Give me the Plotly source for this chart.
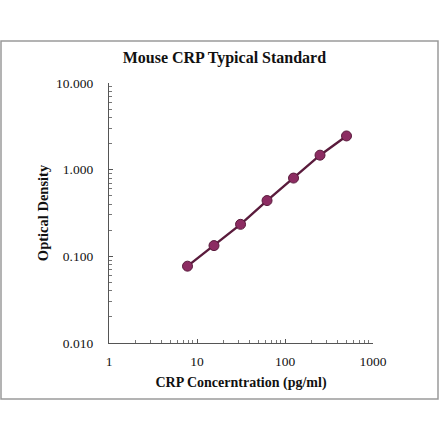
import plotly.graph_objects as go

concentration = [7.8, 15.6, 31.25, 62.5, 125, 250, 500]
optical_density = [0.077, 0.133, 0.234, 0.44, 0.80, 1.47, 2.45]

x_tick_vals = [1, 10, 100, 1000]
x_tick_text = ["1", "10", "100", "1000"]
y_tick_vals = [0.01, 0.1, 1, 10]
y_tick_text = ["0.010", "0.100", "1.000", "10.000"]

title_text = "Mouse CRP Typical Standard"
x_title = "CRP Concerntration (pg/ml)"
y_title = "Optical Density"

serif = "Liberation Serif, Times New Roman, serif"

fig = go.Figure()
fig.add_trace(go.Scatter(
    x=concentration, y=optical_density, mode="lines+markers",
    line=dict(color="#5a1b3c", width=2.4),
    marker=dict(size=10, color="#8c2c62", line=dict(color="#5a1b3c", width=1)),
    showlegend=False,
))

axis_common = dict(
    type="log", showgrid=False, zeroline=False, showline=True,
    linecolor="#555555", linewidth=1.2, ticks="inside", ticklen=4,
    tickcolor="#555555", tickwidth=1,
    minor=dict(ticks="inside", ticklen=3, tickcolor="#777777", dtick="D1"),
)

fig.update_layout(
    width=440, height=441,
    margin=dict(l=109, r=67, t=83, b=98),
    paper_bgcolor="white", plot_bgcolor="white",
    title=dict(text="<b>" + title_text + "</b>", x=0.51, xanchor="center",
               y=1 - 57 / 441, yanchor="middle",
               font=dict(family=serif, size=16, color="#111111")),
    xaxis=dict(axis_common, range=[0, 3], tickvals=x_tick_vals, ticktext=x_tick_text,
               ticklabelstandoff=6,
               tickfont=dict(family=serif, size=13.5, color="#111111"),
               title=dict(text="<b>" + x_title + "</b>", standoff=8,
                          font=dict(family=serif, size=14, color="#111111"))),
    yaxis=dict(axis_common, range=[-2, 1], tickvals=y_tick_vals, ticktext=y_tick_text,
               ticklabelstandoff=12,
               tickfont=dict(family=serif, size=13.5, color="#111111"),
               title=dict(text="<b>" + y_title + "</b>", standoff=4,
                          font=dict(family=serif, size=14.5, color="#111111"))),
    shapes=[dict(type="rect", xref="paper", yref="paper",
                 x0=(1 - 109) / 264, x1=(438 - 109) / 264,
                 y0=(343 - 399) / 260, y1=(343 - 41) / 260,
                 line=dict(color="#9a9a9a", width=1.5), fillcolor="rgba(0,0,0,0)",
                 layer="below")],
)

fig.write_html("out.html", config={"displayModeBar": False},
               post_script="document.body.style.margin='0';document.body.style.overflow='hidden';")
